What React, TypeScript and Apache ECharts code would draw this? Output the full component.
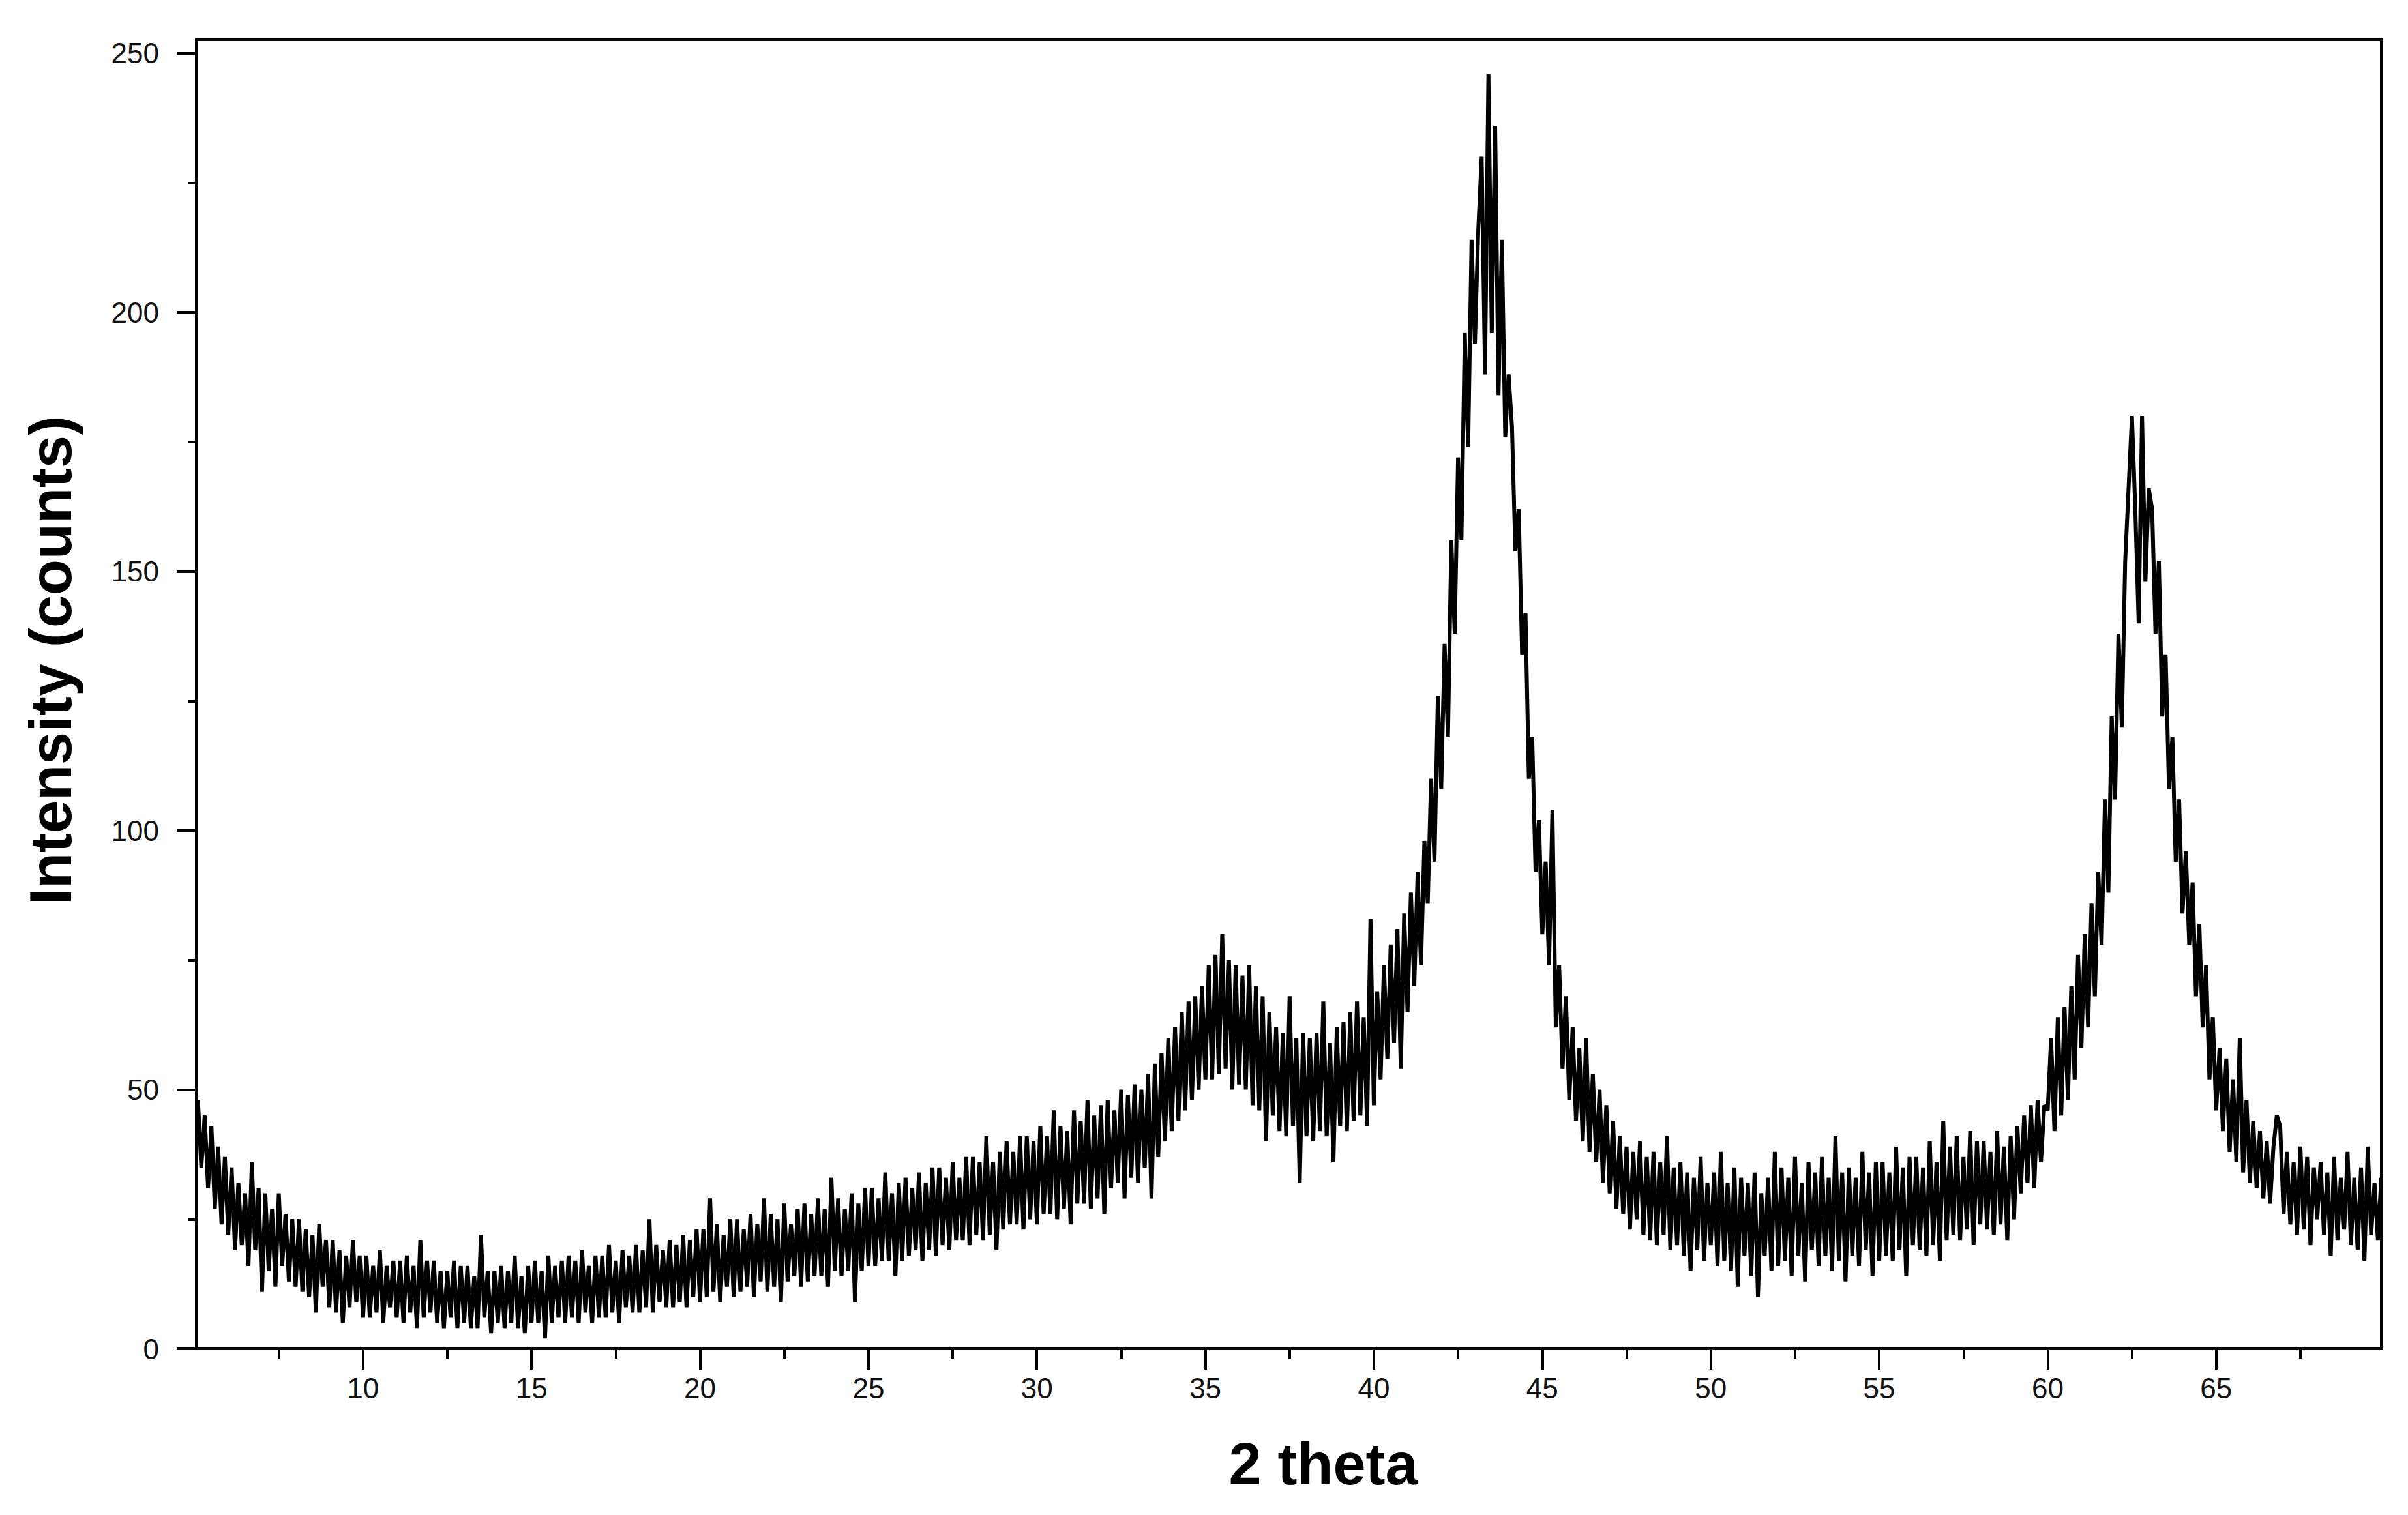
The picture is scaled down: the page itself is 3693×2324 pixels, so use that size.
import { useEffect, useRef } from 'react';
import * as echarts from 'echarts';

// XRD scan: 2theta from 5.1 to 69.9 deg, one reading every 0.1 deg
const scanStart = 5.1;
const scanStep = 0.1;

// intensity (counts), one row per degree (x.1 ... x+1.0)
const counts = [
  48, 35, 45, 31, 43, 27, 39, 24, 37, 22,
  35, 19, 32, 20, 30, 16, 36, 19, 31, 11,
  30, 15, 27, 12, 30, 16, 26, 13, 25, 12,
  25, 11, 23, 10, 22, 7, 24, 12, 21, 8,
  21, 7, 19, 5, 18, 8, 21, 9, 18, 6,
  18, 6, 16, 7, 19, 5, 16, 8, 17, 6,
  17, 5, 18, 7, 16, 4, 21, 6, 17, 7,
  17, 5, 15, 4, 15, 6, 17, 4, 16, 5,
  16, 4, 14, 4, 22, 6, 15, 3, 15, 5,
  16, 4, 15, 5, 18, 4, 14, 3, 16, 5,
  17, 5, 15, 2, 18, 5, 16, 6, 17, 5,
  18, 6, 17, 5, 19, 7, 16, 5, 18, 6,
  18, 6, 20, 7, 17, 5, 19, 8, 18, 7,
  20, 7, 19, 8, 25, 7, 20, 9, 19, 8,
  21, 8, 20, 9, 22, 8, 21, 10, 23, 9,
  23, 10, 29, 11, 24, 9, 22, 12, 25, 10,
  25, 11, 23, 12, 26, 10, 24, 13, 29, 11,
  26, 12, 25, 9, 28, 13, 24, 14, 27, 12,
  28, 13, 26, 14, 29, 14, 27, 12, 33, 15,
  29, 14, 27, 15, 30, 9, 28, 15, 31, 16,
  31, 16, 29, 17, 34, 17, 30, 14, 32, 17,
  33, 18, 31, 19, 34, 17, 32, 19, 35, 18,
  35, 20, 33, 19, 36, 21, 33, 21, 37, 20,
  37, 22, 36, 21, 41, 22, 36, 19, 38, 23,
  40, 24, 38, 24, 41, 23, 41, 25, 40, 24,
  43, 26, 41, 26, 46, 25, 43, 27, 42, 24,
  46, 28, 44, 28, 48, 27, 45, 29, 47, 26,
  48, 31, 46, 32, 50, 29, 49, 33, 51, 32,
  50, 35, 53, 29, 55, 37, 57, 40, 60, 42,
  62, 44, 65, 46, 67, 48, 68, 50, 70, 52,
  74, 52, 76, 53, 80, 54, 75, 50, 74, 51,
  72, 50, 74, 47, 70, 46, 68, 40, 65, 45,
  62, 42, 61, 41, 68, 43, 60, 32, 61, 41,
  60, 40, 61, 42, 67, 41, 59, 36, 62, 43,
  63, 42, 65, 44, 67, 45, 64, 43, 83, 47,
  69, 52, 74, 56, 78, 59, 81, 54, 84, 65,
  88, 70, 92, 74, 98, 86, 110, 94, 126, 108,
  136, 118, 156, 138, 172, 156, 196, 174, 214, 194,
  216, 230, 188, 246, 196, 236, 184, 214, 176, 188,
  178, 154, 162, 134, 142, 110, 118, 92, 102, 80,
  94, 74, 104, 62, 74, 54, 68, 48, 62, 44,
  58, 40, 60, 38, 53, 36, 50, 32, 47, 30,
  44, 27, 41, 26, 39, 23, 38, 25, 40, 22,
  37, 21, 38, 20, 36, 22, 41, 19, 35, 20,
  36, 18, 34, 15, 33, 19, 37, 17, 32, 20,
  34, 16, 38, 17, 32, 15, 35, 12, 33, 18,
  32, 14, 34, 10, 30, 18, 33, 15, 38, 16,
  35, 17, 33, 14, 37, 18, 32, 13, 36, 19,
  34, 16, 37, 18, 33, 15, 41, 17, 34, 13,
  35, 18, 33, 16, 38, 19, 34, 14, 36, 17,
  36, 18, 34, 17, 39, 19, 35, 14, 37, 20,
  37, 19, 35, 18, 40, 20, 36, 17, 44, 21,
  39, 22, 41, 21, 37, 23, 42, 20, 40, 24,
  40, 23, 38, 22, 42, 24, 39, 21, 41, 25,
  43, 30, 45, 32, 47, 31, 48, 36, 47, 46,
  60, 42, 64, 45, 66, 48, 70, 52, 76, 58,
  80, 62, 86, 68, 92, 78, 106, 88, 122, 106,
  138, 120, 152, 166, 180, 162, 140, 180, 148, 166,
  162, 138, 152, 122, 134, 108, 118, 94, 106, 84,
  96, 78, 90, 68, 82, 62, 74, 52, 64, 46,
  58, 42, 56, 38, 52, 36, 60, 34, 48, 32,
  44, 31, 42, 29, 40, 28, 39, 45, 43, 26,
  38, 24, 36, 22, 39, 23, 37, 20, 35, 25,
  36, 22, 34, 18, 37, 21, 33, 23, 38, 20,
  33, 19, 35, 17, 39, 22, 32, 21, 33,
];

const xMajorTicks = [10, 15, 20, 25, 30, 35, 40, 45, 50, 55, 60, 65];
const xMinorTicks = [7.5, 12.5, 17.5, 22.5, 27.5, 32.5, 37.5, 42.5, 47.5, 52.5, 57.5, 62.5, 67.5];
const yMajorTicks = [0, 50, 100, 150, 200, 250];
const yMinorTicks = [25, 75, 125, 175, 225];

const FONT = 'Liberation Sans, Arial, Helvetica, sans-serif';

const App = () => {
  const chartRef = useRef<HTMLDivElement>(null);

  useEffect(() => {
    if (!chartRef.current) return;
    const chart = echarts.init(chartRef.current, null, { renderer: 'svg' });

    const points = counts.map((c, i) => [+(scanStart + i * scanStep).toFixed(2), c]);

    const axisLine = { show: true, lineStyle: { color: '#000', width: 4 } };

    const options: echarts.EChartsOption = {
      animation: false,
      backgroundColor: '#fff',
      grid: {
        left: 301,
        top: 61,
        right: 41,
        bottom: 255,
        show: true,
        borderColor: '#000',
        borderWidth: 4,
        backgroundColor: 'transparent',
      },
      xAxis: [
        {
          type: 'value',
          min: 5.05,
          max: 69.9,
          position: 'bottom',
          axisLine,
          axisTick: {
            show: true,
            customValues: xMajorTicks,
            length: 32,
            lineStyle: { color: '#000', width: 4 },
          },
          axisLabel: {
            customValues: xMajorTicks,
            fontSize: 44,
            lineHeight: 44,
            margin: 38,
            color: '#111',
            fontFamily: FONT,
          },
          splitLine: { show: false },
          name: '2 theta',
          nameLocation: 'middle',
          nameGap: 132,
          nameTextStyle: {
            fontSize: 90,
            lineHeight: 90,
            fontWeight: 'bold',
            color: '#000',
            fontFamily: FONT,
            padding: [0, 0, 0, 106],
          },
        },
        {
          type: 'value',
          min: 5.05,
          max: 69.9,
          position: 'bottom',
          axisLine: { show: false },
          axisTick: {
            show: true,
            customValues: xMinorTicks,
            length: 15,
            lineStyle: { color: '#000', width: 4 },
          },
          axisLabel: { show: false },
          splitLine: { show: false },
        },
      ],
      yAxis: [
        {
          type: 'value',
          min: 0,
          max: 252.6,
          position: 'left',
          axisLine,
          axisTick: {
            show: true,
            customValues: yMajorTicks,
            length: 30,
            lineStyle: { color: '#000', width: 4 },
          },
          axisLabel: {
            customValues: yMajorTicks,
            fontSize: 44,
            margin: 57,
            color: '#111',
            fontFamily: FONT,
          },
          splitLine: { show: false },
          name: 'Intensity (counts)',
          nameLocation: 'middle',
          nameGap: 178,
          nameTextStyle: {
            fontSize: 90,
            lineHeight: 90,
            fontWeight: 'bold',
            color: '#000',
            fontFamily: FONT,
            padding: [0, 0, 0, 104],
          },
        },
        {
          type: 'value',
          min: 0,
          max: 252.6,
          position: 'left',
          axisLine: { show: false },
          axisTick: {
            show: true,
            customValues: yMinorTicks,
            length: 13,
            lineStyle: { color: '#000', width: 4 },
          },
          axisLabel: { show: false },
          splitLine: { show: false },
        },
      ],
      series: [
        {
          name: 'XRD',
          type: 'line',
          xAxisIndex: 0,
          yAxisIndex: 0,
          data: points,
          symbol: 'none',
          showSymbol: false,
          lineStyle: { color: '#000', width: 6, join: 'miter', miterLimit: 2 },
          clip: true,
        },
      ],
    };

    chart.setOption(options);

    const handleResize = () => chart.resize();
    window.addEventListener('resize', handleResize);

    return () => {
      window.removeEventListener('resize', handleResize);
      chart.dispose();
    };
  }, []);

  return (
    <div
      ref={chartRef}
      style={{
        position: 'fixed',
        left: 0,
        top: 0,
        width: '100vw',
        height: '100vh',
        backgroundColor: '#fff',
      }}
    />
  );
};

export default App;
